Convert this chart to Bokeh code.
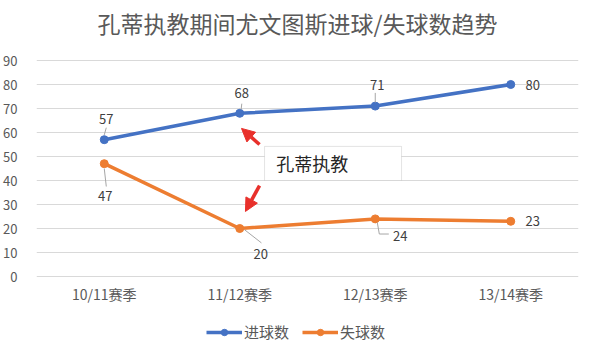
import numpy as np
from bokeh.plotting import figure
from bokeh.models import (Range1d, FixedTicker, Legend, LegendItem,
                          BoxAnnotation, Label, Arrow, NormalHead, ColumnDataSource)
from bokeh.core.properties import value
from bokeh.embed import file_html
from bokeh.resources import INLINE

# ---- data ----
title_text = "孔蒂执教期间尤文图斯进球/失球数趋势"
seasons = ["10/11赛季", "11/12赛季", "12/13赛季", "13/14赛季"]
goals_for = [57, 68, 71, 80]
goals_against = [47, 20, 24, 23]
series_names = ["进球数", "失球数"]
note_text = "孔蒂执教"
y_ticks = [0, 10, 20, 30, 40, 50, 60, 70, 80, 90]

# ---- styles ----
FONT = "Noto Sans CJK SC"
BLUE = "#4472C4"
ORANGE = "#ED7D31"
GRAY_TXT = "#595959"
LBL_TXT = "#404040"
RED = "#E8302B"

W, H = 592, 350
PLOT_TOP, PLOT_BOTTOM = 60, 276          # pixel rows of the 90 and 0 gridlines
px_per_unit = (PLOT_BOTTOM - PLOT_TOP) / (y_ticks[-1] - y_ticks[0])

xs = np.arange(len(seasons)) + 0.5

p = figure(width=W, height=H, output_backend="svg", toolbar_location=None,
           x_range=Range1d(0, len(seasons)),
           y_range=Range1d(-(H - PLOT_BOTTOM) / px_per_unit, PLOT_BOTTOM / px_per_unit),
           frame_width=542, frame_height=H,
           min_border_left=35, min_border_right=15, min_border_top=0, min_border_bottom=0)
p.outline_line_color = None
p.background_fill_color = "white"
p.border_fill_color = "white"

# y axis
p.yaxis.ticker = FixedTicker(ticks=y_ticks)
p.yaxis.axis_line_color = None
p.yaxis.major_tick_line_color = None
p.yaxis.minor_tick_line_color = None
p.yaxis.major_label_standoff = 13
p.yaxis.major_label_text_font = FONT
p.yaxis.major_label_text_font_size = "13px"
p.yaxis.major_label_text_color = GRAY_TXT
p.xaxis.visible = False
p.xgrid.grid_line_color = None
p.ygrid.grid_line_color = "#D9D9D9"
p.ygrid.grid_line_width = 1

# title
p.add_layout(Label(x=W / 2 - 35, y=H - 22, x_units="screen", y_units="screen", text=title_text,
                   text_font=FONT, text_font_size="23px", text_color=GRAY_TXT,
                   text_align="center", text_baseline="middle"))

# category labels under the 0 line
p.text(x=xs, y=[0] * len(xs), text=seasons, y_offset=17,
       text_font=value(FONT), text_font_size="14px", text_color=GRAY_TXT,
       text_align="center", text_baseline="middle")

# series
l1 = p.line(xs, goals_for, line_color=BLUE, line_width=3.5)
s1 = p.scatter(xs, goals_for, size=8, fill_color=BLUE, line_color=BLUE)
l2 = p.line(xs, goals_against, line_color=ORANGE, line_width=3.5)
s2 = p.scatter(xs, goals_against, size=8, fill_color=ORANGE, line_color=ORANGE)

# data label leader lines (offsets in data units from each point)
LEAD = "#A6A6A6"
gf_lead = [(0.0, 2, 0.015, 5), (0.01, 1.5, 0.015, 4), (0.0, 1.5, 0.0, 5.5), None]
ga_lead = [(0.0, -2, 0.015, -9.5), (0.035, -0.5, 0.16, -6), (0.015, -1.5, 0.03, -6.3), None]
for vals, leads in ((goals_for, gf_lead), (goals_against, ga_lead)):
    for x, v, ld in zip(xs, vals, leads):
        if ld is None:
            continue
        p.segment(x0=[x + ld[0]], y0=[v + ld[1]], x1=[x + ld[2]], y1=[v + ld[3]],
                  line_color=LEAD, line_width=1)
# elbow for 24
p.segment(x0=[xs[2] + 0.03], y0=[goals_against[2] - 6.3], x1=[xs[2] + 0.1],
          y1=[goals_against[2] - 6.3], line_color=LEAD, line_width=1)

# data labels
gf_off = [(2, 21), (2, 20), (2, 21), (22, 0)]
ga_off = [(1, -32), (21, -25), (25, -17), (22, 0)]
for vals, offs in ((goals_for, gf_off), (goals_against, ga_off)):
    src = ColumnDataSource(dict(x=xs, y=vals, t=[str(v) for v in vals],
                                xo=[o[0] for o in offs], yo=[-o[1] for o in offs]))
    p.text(x="x", y="y", text="t", x_offset="xo", y_offset="yo", source=src,
           text_font=value(FONT), text_font_size="13px", text_color=LBL_TXT,
           text_align="center", text_baseline="middle")

# annotation box & text
box = BoxAnnotation(left=xs[1] + 0.183, right=xs[2] + 0.194,
                    top=goals_against[1] + 34.2, bottom=goals_against[1] + 20,
                    fill_color="white", fill_alpha=1, line_color="#A6A6A6", line_width=1,
                    level="overlay")
p.add_layout(box)
p.add_layout(Label(x=xs[1] + 0.27, y=goals_against[1] + 27.2, text=note_text,
                   text_font=FONT, text_font_size="18px", text_color="#262626",
                   text_baseline="middle", text_align="left", level="overlay"))

# red arrows
for (xa, ya, xb, yb) in ((xs[1] + 0.146, goals_for[1] - 13, xs[1] + 0.013, goals_for[1] - 6.3),
                         (xs[1] + 0.146, goals_against[1] + 17.9, xs[1] + 0.042, goals_against[1] + 7.1)):
    p.add_layout(Arrow(x_start=xa, y_start=ya, x_end=xb, y_end=yb,
                       line_color=RED, line_width=3.5,
                       end=NormalHead(size=13, fill_color=RED, line_color=RED)))

# legend
legend = Legend(items=[LegendItem(label=series_names[0], renderers=[l1, s1]),
                       LegendItem(label=series_names[1], renderers=[l2, s2])],
                orientation="horizontal", location=(170, 8),
                label_text_font=FONT, label_text_font_size="15px", label_text_color=GRAY_TXT,
                glyph_width=36, glyph_height=16, label_standoff=2, spacing=13,
                padding=4, margin=0, border_line_color=None, background_fill_alpha=0)
p.add_layout(legend)

open("out.html", "w").write(file_html(p, INLINE))
